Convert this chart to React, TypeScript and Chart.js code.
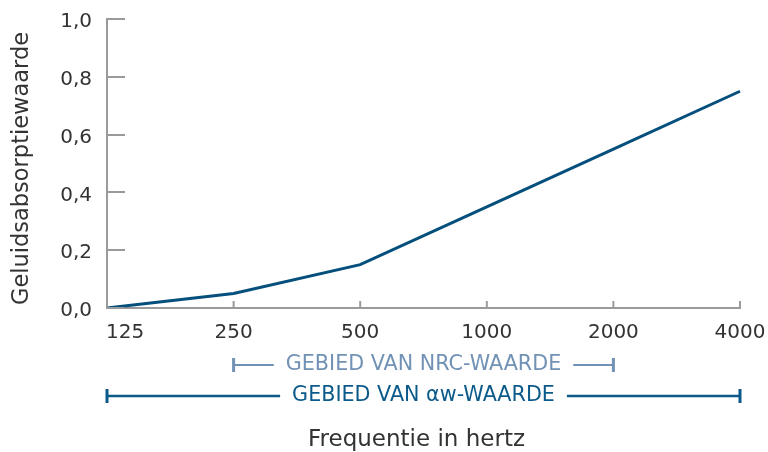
import React, { useEffect, useRef } from "react";
import { Chart, registerables } from "chart.js";

Chart.register(...registerables);

const categories = ["125", "250", "500", "1000", "2000", "4000"];
const absorption = [0, 0.05, 0.15, 0.35, 0.55, 0.75];
const yTicks = [0, 0.2, 0.4, 0.6, 0.8, 1.0];
const nrcRange = ["250", "2000"];
const nrcLabel = "GEBIED VAN NRC-WAARDE";
const awRange = ["125", "4000"];
const awLabel = "GEBIED VAN αw-WAARDE";
const yTitle = "Geluidsabsorptiewaarde";
const xTitle = "Frequentie in hertz";

const FONT = "'DejaVu Sans', sans-serif";
const TEXT = "#333333";
const AXIS = "#9a9a9a";
const LINE = "#044f7c";
const NRC_COLOR = "#7191b5";
const AW_COLOR = "#0b5a8a";

const decorPlugin = {
  id: "decor",
  afterDraw(chart: any) {
    const { ctx, chartArea, scales } = chart;
    const xs = scales.x;
    const ys = scales.y;
    ctx.save();
    ctx.strokeStyle = AXIS;
    ctx.lineWidth = 2;
    // y tick marks pointing inward
    ys.ticks.forEach((_t: any, i: number) => {
      const y = Math.round(ys.getPixelForTick(i));
      ctx.beginPath();
      ctx.moveTo(chartArea.left, y);
      ctx.lineTo(chartArea.left + 18, y);
      ctx.stroke();
    });
    // x tick marks pointing up + x tick labels
    ctx.font = `20px ${FONT}`;
    ctx.fillStyle = TEXT;
    ctx.textBaseline = "alphabetic";
    categories.forEach((c, i) => {
      const x = xs.getPixelForValue(i);
      ctx.beginPath();
      ctx.moveTo(x, chartArea.bottom);
      ctx.lineTo(x, chartArea.bottom - 7);
      ctx.stroke();
      ctx.textAlign = i === 0 ? "left" : "center";
      ctx.fillText(c, i === 0 ? x - 1 : x, chartArea.bottom + 30);
    });

    const bracket = (range: string[], label: string, color: string, dy: number, lw: number) => {
      const x1 = xs.getPixelForValue(categories.indexOf(range[0]));
      const x2 = xs.getPixelForValue(categories.indexOf(range[1]));
      const y = chartArea.bottom + dy;
      const mid = (x1 + x2) / 2;
      ctx.font = `20.7px ${FONT}`;
      ctx.fillStyle = color;
      ctx.textAlign = "center";
      ctx.textBaseline = "middle";
      ctx.fillText(label, mid, y);
      const w = ctx.measureText(label).width;
      ctx.strokeStyle = color;
      ctx.lineWidth = lw;
      ctx.beginPath();
      ctx.moveTo(x1, y);
      ctx.lineTo(mid - w / 2 - 12, y);
      ctx.moveTo(mid + w / 2 + 12, y);
      ctx.lineTo(x2, y);
      ctx.stroke();
      ctx.lineWidth = 3;
      ctx.beginPath();
      ctx.moveTo(x1, y - 7);
      ctx.lineTo(x1, y + 7);
      ctx.moveTo(x2, y - 7);
      ctx.lineTo(x2, y + 7);
      ctx.stroke();
    };
    bracket(nrcRange, nrcLabel, NRC_COLOR, 57, 2);
    bracket(awRange, awLabel, AW_COLOR, 88, 2.5);

    // axis titles
    ctx.fillStyle = TEXT;
    ctx.textAlign = "center";
    ctx.textBaseline = "alphabetic";
    ctx.font = `23px ${FONT}`;
    ctx.fillText(xTitle, 416.5, chartArea.bottom + 138);
    ctx.translate(28, (chartArea.top + chartArea.bottom) / 2 + 5);
    ctx.rotate(-Math.PI / 2);
    ctx.font = `22.5px ${FONT}`;
    ctx.fillText(yTitle, 0, 0);
    ctx.restore();
  },
};

export default function App() {
  const ref = useRef<HTMLCanvasElement | null>(null);
  useEffect(() => {
    if (!ref.current) return;
    const chart = new Chart(ref.current, {
      type: "line",
      data: {
        labels: categories,
        datasets: [
          {
            data: absorption,
            borderColor: LINE,
            borderWidth: 3,
            pointRadius: 0,
            tension: 0,
            fill: false,
          },
        ],
      },
      options: {
        animation: false,
        responsive: false,
        maintainAspectRatio: false,
        layout: { padding: { top: 0, right: 28, bottom: 0, left: 0 } },
        plugins: { legend: { display: false }, tooltip: { enabled: false } },
        scales: {
          x: {
            type: "category",
            offset: false,
            grid: { display: false, drawTicks: false },
            border: { display: true, color: AXIS, width: 2 },
            ticks: { display: false },
            title: { display: false },
            afterFit: (s: any) => {
              s.height = 144;
            },
          },
          y: {
            min: 0,
            max: 1,
            afterBuildTicks: (s: any) => {
              s.ticks = yTicks.map((v) => ({ value: v }));
            },
            grid: { display: false, drawTicks: false },
            border: { display: true, color: AXIS, width: 2 },
            ticks: {
              font: { family: FONT, size: 20, lineHeight: 0.4 },
              color: TEXT,
              padding: 15,
              labelOffset: 3,
              callback: (v: any) => Number(v).toFixed(1).replace(".", ","),
            },
            title: { display: false },
            afterFit: (s: any) => {
              s.width = 107;
            },
          },
        },
      },
      plugins: [decorPlugin],
    });
    return () => chart.destroy();
  }, []);
  return (
    <div style={{ width: 768, height: 452 }}>
      <style>{`body{margin:0}`}</style>
      <canvas ref={ref} width={768} height={452} style={{ display: "block" }} />
    </div>
  );
}
